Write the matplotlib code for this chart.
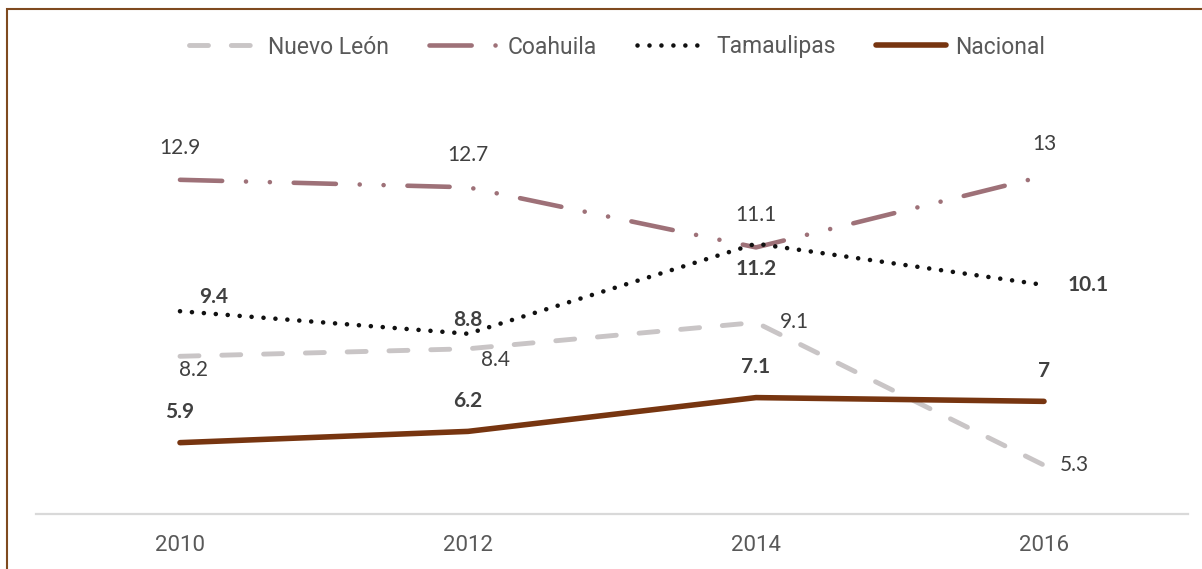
import matplotlib.pyplot as plt
from matplotlib.patches import Rectangle

years = ['2010', '2012', '2014', '2016']
nuevo_leon = [8.2, 8.4, 9.1, 5.3]
coahuila = [12.9, 12.7, 11.1, 13]
tamaulipas = [9.4, 8.8, 11.2, 10.1]
nacional = [5.9, 6.2, 7.1, 7]

nl_labels = ['8.2', '8.4', '9.1', '5.3']
co_labels = ['12.9', '12.7', '11.1', '13']
ta_labels = ['9.4', '8.8', '11.2', '10.1']
na_labels = ['5.9', '6.2', '7.1', '7']

x = list(range(len(years)))

fig = plt.figure(figsize=(12.02, 5.69), dpi=100)
ax = fig.add_axes([36 / 1202, 1 - 514 / 569, 1152 / 1202, 375.5 / 569])

# series
ln_nl, = ax.plot(x, nuevo_leon, color='#C9C5C6', lw=3.5, dash_capstyle='round',
                 label='Nuevo León')
ln_nl.set_dashes([3.9, 4.7])
ln_co, = ax.plot(x, coahuila, color='#9E7178', lw=3.3, dash_capstyle='round',
                 label='Coahuila')
ln_co.set_dashes([9.2, 5.2, 0.01, 5.2, 0.01, 5.2])
ln_ta, = ax.plot(x, tamaulipas, color='#111111', lw=3.3, dash_capstyle='round',
                 label='Tamaulipas')
ln_ta.set_dashes([0.01, 2.6])
ax.plot(x, nacional, color='#773510', lw=4, solid_capstyle='round',
        label='Nacional')

lab = dict(fontsize=15, color='#404040', family='Lato', ha='center', va='center')
bold = dict(lab, fontweight='bold')

# label offsets in points
nl_off = [(10, -10), (20, -8), (28, 0), (22, 0)]
for xi, v, t, o in zip(x, nuevo_leon, nl_labels, nl_off):
    ax.annotate(t, (xi, v), xytext=o, textcoords='offset points', **lab)
for xi, v, t in zip(x, coahuila, co_labels):
    ax.annotate(t, (xi, v), xytext=(0, 23), textcoords='offset points', **lab)
ta_off = [(24, 10), (0, 10), (0, -18), (32, 0)]
for xi, v, t, o in zip(x, tamaulipas, ta_labels, ta_off):
    ax.annotate(t, (xi, v), xytext=o, textcoords='offset points', **bold)
for xi, v, t in zip(x, nacional, na_labels):
    ax.annotate(t, (xi, v), xytext=(0, 22), textcoords='offset points', **bold)

ax.set_xlim(-0.5, 3.5)
ax.set_ylim(4, 14)
ax.set_xticks(x)
ax.set_xticklabels(years, fontsize=16, color='#595959', family='Roboto')
ax.tick_params(axis='x', length=0, pad=15)
ax.set_yticks([])
for s in ['top', 'right', 'left']:
    ax.spines[s].set_visible(False)
ax.spines['bottom'].set_color('#D9D9D9')
ax.spines['bottom'].set_linewidth(1.6)
ax.patch.set_alpha(0)

leg = fig.legend(loc='center', bbox_to_anchor=(0.513, 1 - 47 / 569), ncol=4,
                 frameon=False, prop={'family': 'Roboto', 'size': 16.5},
                 handlelength=3.05, handletextpad=0.4, columnspacing=1.75)
for t in leg.get_texts():
    t.set_color('#595959')

# outer frame (only left and top visible)
fig.patches.append(Rectangle((7 / 1202, -0.1), 2, 1.1 - 9 / 569,
                             transform=fig.transFigure, fill=False,
                             edgecolor='#7F4A1F', lw=1.5, zorder=0))

fig.savefig('out.png', dpi=100)
